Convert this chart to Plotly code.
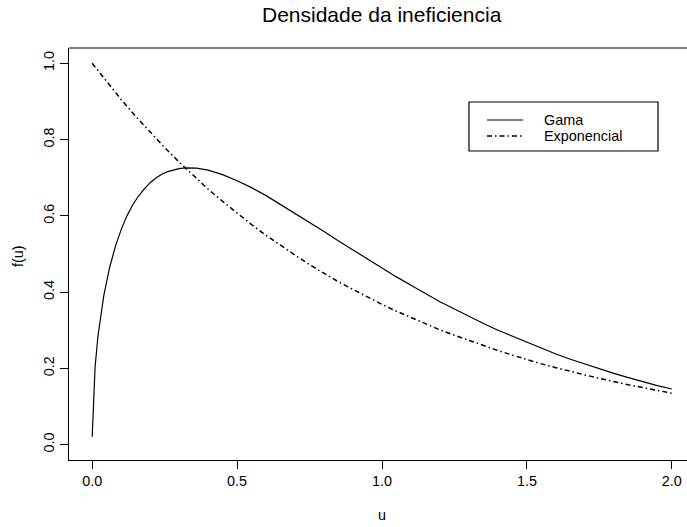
import plotly.graph_objects as go

# Densities evaluated over u in [0, 2]
u_gama = [0.0001, 0.01, 0.02, 0.03, 0.04, 0.06, 0.08, 0.10, 0.12, 0.14, 0.16, 0.18, 0.20,
          0.22, 0.24, 0.26, 0.28, 0.30, 0.32, 0.34, 0.36, 0.40, 0.45, 0.50, 0.55, 0.60,
          0.65, 0.70, 0.75, 0.80, 0.85, 0.90, 0.95, 1.00, 1.05, 1.10, 1.15, 1.20, 1.25,
          1.30, 1.35, 1.40, 1.45, 1.50, 1.55, 1.60, 1.65, 1.70, 1.75, 1.80, 1.85, 1.90,
          1.95, 2.00]
f_gama = [0.021, 0.204, 0.285, 0.343, 0.391, 0.464, 0.520, 0.564, 0.600, 0.629, 0.652, 0.671,
          0.687, 0.699, 0.709, 0.716, 0.721, 0.724, 0.726, 0.726, 0.725, 0.720, 0.708, 0.692,
          0.674, 0.653, 0.630, 0.607, 0.583, 0.559, 0.534, 0.510, 0.486, 0.463, 0.440, 0.418,
          0.396, 0.375, 0.356, 0.336, 0.318, 0.300, 0.284, 0.268, 0.252, 0.238, 0.224, 0.211,
          0.199, 0.187, 0.176, 0.165, 0.155, 0.146]

u_expo = [0.0, 0.05, 0.10, 0.15, 0.20, 0.25, 0.30, 0.35, 0.40, 0.45, 0.50, 0.55, 0.60,
          0.65, 0.70, 0.75, 0.80, 0.85, 0.90, 0.95, 1.00, 1.05, 1.10, 1.15, 1.20, 1.25,
          1.30, 1.35, 1.40, 1.45, 1.50, 1.55, 1.60, 1.65, 1.70, 1.75, 1.80, 1.85, 1.90,
          1.95, 2.00]
f_expo = [1.000, 0.951, 0.905, 0.861, 0.819, 0.779, 0.741, 0.705, 0.670, 0.638, 0.607,
          0.577, 0.549, 0.522, 0.497, 0.472, 0.449, 0.427, 0.407, 0.387, 0.368, 0.350,
          0.333, 0.317, 0.301, 0.287, 0.273, 0.259, 0.247, 0.235, 0.223, 0.212, 0.202,
          0.192, 0.183, 0.174, 0.165, 0.157, 0.150, 0.142, 0.135]

x_ticks = [0.0, 0.5, 1.0, 1.5, 2.0]
x_tick_text = ["0.0", "0.5", "1.0", "1.5", "2.0"]
y_ticks = [0.0, 0.2, 0.4, 0.6, 0.8, 1.0]
y_tick_text = ["0.0", "0.2", "0.4", "0.6", "0.8", "1.0"]

series_names = ["Gama", "Exponencial"]

FONT = "Liberation Sans, Arial, Helvetica, sans-serif"
DOTDASH = "5px,3px,1.5px,3px"

W, H = 687, 527
L, R, T, B = 69, 0, 48, 67
PW, PH = W - L - R, H - T - B

fig = go.Figure()
fig.add_trace(go.Scatter(x=u_gama, y=f_gama, mode="lines", name=series_names[0],
                         line=dict(color="black", width=1.2)))
fig.add_trace(go.Scatter(x=u_expo, y=f_expo, mode="lines", name=series_names[1],
                         line=dict(color="black", width=1.5, dash=DOTDASH)))


def px_x(p):
    return (p - L) / PW


def px_y(p):
    return (H - B - p) / PH


shapes = [
    # top edge of the frame
    dict(type="line", xref="paper", yref="paper", x0=0, x1=1, y0=1, y1=1,
         line=dict(color="black", width=1.2)),
    # legend box
    dict(type="rect", xref="paper", yref="paper",
         x0=px_x(469), x1=px_x(658), y0=px_y(151), y1=px_y(102),
         line=dict(color="black", width=1.2), fillcolor="white"),
    dict(type="line", xref="paper", yref="paper",
         x0=px_x(487), x1=px_x(523), y0=px_y(120), y1=px_y(120),
         line=dict(color="black", width=1.2)),
    dict(type="line", xref="paper", yref="paper",
         x0=px_x(487), x1=px_x(523), y0=px_y(136), y1=px_y(136),
         line=dict(color="black", width=1.5, dash=DOTDASH)),
]

annotations = [
    dict(text=series_names[0], xref="paper", yref="paper", x=px_x(542), y=px_y(120),
         xanchor="left", yanchor="middle", showarrow=False,
         font=dict(family=FONT, size=14.4, color="black")),
    dict(text=series_names[1], xref="paper", yref="paper", x=px_x(542), y=px_y(136),
         xanchor="left", yanchor="middle", showarrow=False,
         font=dict(family=FONT, size=14.4, color="black")),
    dict(text="u", xref="paper", yref="paper", x=px_x(382), y=px_y(515),
         xanchor="center", yanchor="middle", showarrow=False,
         font=dict(family=FONT, size=14.4, color="black")),
    dict(text="f(u)", xref="paper", yref="paper", x=px_x(18), y=px_y(256),
         xanchor="center", yanchor="middle", textangle=-90, showarrow=False,
         font=dict(family=FONT, size=14.4, color="black")),
    dict(text="Densidade da ineficiencia", xref="paper", yref="paper",
         x=px_x(382), y=px_y(14), xanchor="center", yanchor="middle", showarrow=False,
         font=dict(family=FONT, size=21, color="black")),
]

axis_common = dict(showgrid=False, zeroline=False, showline=True, linecolor="black",
                   linewidth=1.2, ticks="outside", ticklen=8, tickwidth=1.2,
                   tickcolor="black", tickfont=dict(family=FONT, size=14.4, color="black"))

fig.update_layout(
    width=W, height=H,
    margin=dict(l=L, r=R, t=T, b=B),
    paper_bgcolor="white", plot_bgcolor="white",
    showlegend=False,
    xaxis=dict(range=[-0.08, -0.08 + 2.16 * PW / 626], tickvals=x_ticks, ticktext=x_tick_text,
               **axis_common),
    yaxis=dict(range=[-0.04, 1.04], tickvals=y_ticks, ticktext=y_tick_text, tickangle=-90,
               **axis_common),
    shapes=shapes,
    annotations=annotations,
)

fig.write_html("out.html")
